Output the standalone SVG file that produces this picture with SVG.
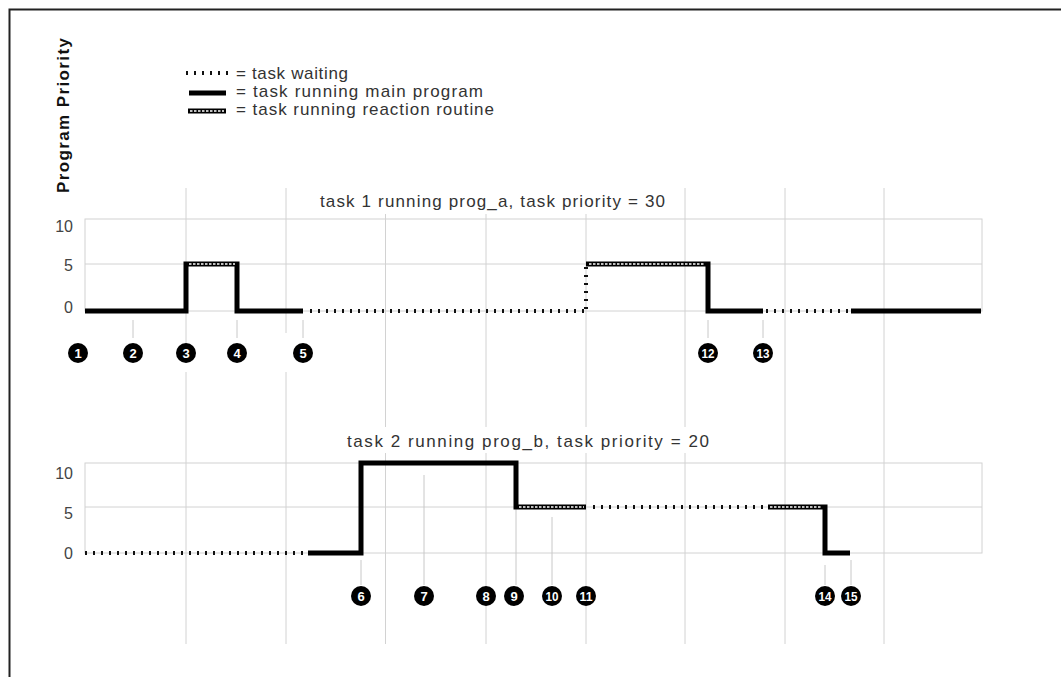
<svg xmlns="http://www.w3.org/2000/svg" width="1061" height="677" viewBox="0 0 1061 677">
<defs>
<style>
.grid{stroke:#d2d2d2;stroke-width:1;fill:none}
.box{stroke:#d2d2d2;stroke-width:1;fill:none}
.tick{stroke:#c8c8c8;stroke-width:1;fill:none}
.main{stroke:#000;stroke-width:5;fill:none;stroke-linejoin:miter;stroke-linecap:butt}
.wait{stroke:#111;stroke-width:4;fill:none;stroke-dasharray:2 6}
.react{stroke:#fff;stroke-width:1.4;fill:none;stroke-dasharray:2.5 1.5}
text{font-family:"Liberation Sans",Arial,sans-serif}
.lbl{font-size:17px;fill:#333}
.ttl{font-size:17px;fill:#333}
.ax{font-size:16px;fill:#444;text-anchor:end}
.co circle{fill:#000}
.co text{fill:#fff;font-size:13px;font-weight:bold;text-anchor:middle}
.co text.dd{font-size:12px}
</style>
</defs>
<rect x="0" y="0" width="1061" height="677" fill="#fff"/>
<path d="M9.5,677 V9.5 H1061" stroke="#222" stroke-width="2" fill="none"/>

<g id="axis-label">
<text transform="translate(69,193) rotate(-90)" font-size="17" font-weight="bold" fill="#111" textLength="155" lengthAdjust="spacing">Program Priority</text>
</g>

<g id="legend">
<line class="wait" x1="186" y1="73" x2="230" y2="73"/>
<line class="main" x1="189" y1="93" x2="226" y2="93"/>
<line class="main" x1="188" y1="111" x2="226" y2="111"/>
<line class="react" x1="190" y1="111" x2="224" y2="111"/>
<text class="lbl" x="236" y="79" textLength="112" lengthAdjust="spacing">= task waiting</text>
<text class="lbl" x="236" y="97" textLength="247" lengthAdjust="spacing">= task running main program</text>
<text class="lbl" x="236" y="115" textLength="258" lengthAdjust="spacing">= task running reaction routine</text>
</g>

<g id="grid">
<path class="grid" d="M186,188 V343 M186,372 V644 M286,188 V333 M286,372 V644 M385.5,214 V427 M385.5,453 V644 M486,214 V427 M486,453 V644 M586,214 V427 M586,453 V644 M685,188 V427 M685,453 V644 M785,188 V644 M884,188 V644"/>
<rect class="box" x="85" y="219" width="897" height="92"/>
<line class="box" x1="85" y1="264" x2="982" y2="264"/>
<rect class="box" x="85" y="463" width="897" height="90"/>
<line class="box" x1="85" y1="507" x2="982" y2="507"/>
<path class="tick" d="M133,320 V338 M237,320 V338 M303,320 V338 M708,320 V338 M763,320 V338 M361,560 V585 M424,475 V585 M516,507 V585 M552,517 V585 M825,565 V585 M851,560 V585"/>
</g>

<g id="plot1">
<text class="ttl" x="320" y="207" textLength="345" lengthAdjust="spacing">task 1 running prog_a, task priority = 30</text>
<text class="ax" x="73" y="232">10</text>
<text class="ax" x="73" y="271">5</text>
<text class="ax" x="73" y="313">0</text>
</g>

<g id="plot2">
<text class="ttl" x="347" y="447" textLength="362" lengthAdjust="spacing">task 2 running prog_b, task priority = 20</text>
<text class="ax" x="73" y="479">10</text>
<text class="ax" x="73" y="519">5</text>
<text class="ax" x="73" y="559">0</text>
</g>

<g id="connectors">
<path class="wait" d="M310,311 H584 M586,309 V267 M766,311 H849"/>
<path class="main" d="M85,311 H186 V264 H237 V311 H303"/>
<path class="react" d="M189,264 H235"/>
<path class="main" d="M586,264 H708 V311 H763"/>
<path class="react" d="M589,264 H705"/>
<path class="main" d="M851,311 H981"/>
<path class="wait" d="M85,553 H304 M593,507 H764"/>
<path class="main" d="M308,553 H361 V463 H516 V507 H586"/>
<path class="react" d="M519,507 H584"/>
<path class="main" d="M768,507 H825 V553 H850"/>
<path class="react" d="M770,507 H822"/>
</g>

<g id="callouts" class="co">
<g id="c1"><circle cx="78" cy="353" r="10"/><text x="78" y="358">1</text></g>
<g id="c2"><circle cx="133" cy="353" r="10"/><text x="133" y="358">2</text></g>
<g id="c3"><circle cx="186" cy="353" r="10"/><text x="186" y="358">3</text></g>
<g id="c4"><circle cx="237" cy="353" r="10"/><text x="237" y="358">4</text></g>
<g id="c5"><circle cx="303" cy="353" r="10"/><text x="303" y="358">5</text></g>
<g id="c12"><circle cx="708" cy="353" r="10"/><text class="dd" x="708" y="357.5" textLength="13" lengthAdjust="spacingAndGlyphs">12</text></g>
<g id="c13"><circle cx="763" cy="353" r="10"/><text class="dd" x="763" y="357.5" textLength="13" lengthAdjust="spacingAndGlyphs">13</text></g>
<g id="c6"><circle cx="361" cy="596" r="10"/><text x="361" y="601">6</text></g>
<g id="c7"><circle cx="424" cy="596" r="10"/><text x="424" y="601">7</text></g>
<g id="c8"><circle cx="486" cy="596" r="10"/><text x="486" y="601">8</text></g>
<g id="c9"><circle cx="514" cy="596" r="10"/><text x="514" y="601">9</text></g>
<g id="c10"><circle cx="552" cy="596" r="10"/><text class="dd" x="552" y="600.5" textLength="13" lengthAdjust="spacingAndGlyphs">10</text></g>
<g id="c11"><circle cx="586" cy="596" r="10"/><text class="dd" x="586" y="600.5" textLength="13" lengthAdjust="spacingAndGlyphs">11</text></g>
<g id="c14"><circle cx="825" cy="596" r="10"/><text class="dd" x="825" y="600.5" textLength="13" lengthAdjust="spacingAndGlyphs">14</text></g>
<g id="c15"><circle cx="851" cy="596" r="10"/><text class="dd" x="851" y="600.5" textLength="13" lengthAdjust="spacingAndGlyphs">15</text></g>
</g>
</svg>
